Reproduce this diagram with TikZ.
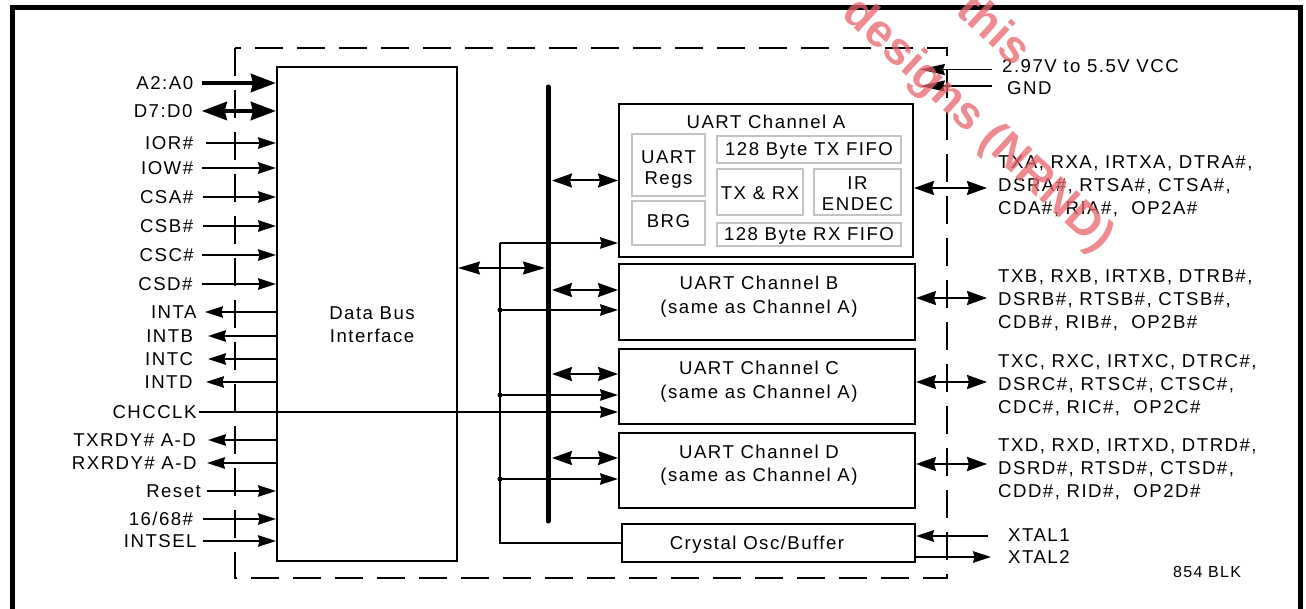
\documentclass[tikz,border=0pt]{standalone}
\usepackage{fontspec}
\setmainfont{Liberation Sans}[LetterSpace=8]
\newfontfamily\wmfont{Liberation Sans}
\usetikzlibrary{arrows.meta}
\definecolor{wmred}{RGB}{232,100,108}
\definecolor{igray}{RGB}{195,195,195}
\tikzset{
  lbl/.style={inner sep=0pt, text height=13.3pt, text depth=0pt},
  box/.style={draw, line width=2pt, inner sep=0pt},
  ibox/.style={draw=igray, line width=1.5pt, inner sep=0pt, align=center, font=\fontsize{18.6}{21.5}\selectfont},
  itxt/.style={inner sep=0pt, align=center, font=\fontsize{18.6}{21.5}\selectfont},
  ln/.style={line width=1.3pt},
  ar/.style={line width=1.3pt, -{Stealth[length=18pt,width=11.5pt,inset=1.5pt]}},
  darr/.style={line width=2pt, {Stealth[length=20pt,width=14pt,inset=2pt]}-{Stealth[length=20pt,width=14pt,inset=2pt]}},
  bdarr/.style={line width=1.3pt, {Stealth[length=22pt,width=13pt,inset=2pt]}-{Stealth[length=22pt,width=13pt,inset=2pt]}},
  varr/.style={line width=1.3pt, -{Stealth[length=25pt,width=11pt,inset=2pt]}},
  thk/.style={line width=4.5pt, -{Stealth[length=25pt,width=18pt,inset=2pt]}},
  thkd/.style={line width=4.5pt, {Stealth[length=25pt,width=18pt,inset=2pt]}-{Stealth[length=25pt,width=18pt,inset=2pt]}},
  dot/.style={circle, fill, inner sep=0pt, minimum size=5pt},
  wm/.style={inner sep=0pt, text=wmred, opacity=0.75, font=\wmfont\bfseries\fontsize{46}{50}\selectfont, rotate=-42.8, anchor=east}
}
\begin{document}
\begin{tikzpicture}[x=1pt,y=-1pt, every node/.style={font=\fontsize{18.6}{23}\selectfont}]
\useasboundingbox (0,0) rectangle (1306,609);
% outer frame and chip outline
\draw[line width=5pt] (12.5,609) -- (12.5,7.5) -- (1300.8,7.5) -- (1300.8,609);
\draw[line width=1.2pt, dash pattern=on 28pt off 14pt] (235,48) rectangle (947,578);

% blocks
\node[box, minimum width=180, minimum height=494] (dbi) at (367,314) {};
\node[lbl, align=center, text height=, text depth=] (dbit) at (372,324.5) {Data Bus\\Interface};
\node[box, minimum width=294, minimum height=153] (chA) at (766,180.5) {};
\node[lbl] (chAt) at (766,122) {UART Channel A};
\node[ibox, minimum width=73, minimum height=62] (regs) at (668.5,165) {};
\node[itxt] (regst) at (668.5,169.5) {UART\\Regs};
\node[ibox, minimum width=73, minimum height=44] (brg) at (668.5,223) {};
\node[lbl] (brgt) at (668.5,220.5) {BRG};
\node[ibox, minimum width=184, minimum height=27] (txf) at (809,149.5) {};
\node[lbl] (txft) at (809,148.5) {128 Byte TX FIFO};
\node[ibox, minimum width=86, minimum height=46] (txrx) at (760,192) {};
\node[lbl] (txrxt) at (760,193) {TX \& RX};
\node[ibox, minimum width=87, minimum height=46] (ir) at (857.5,192) {};
\node[itxt] (irt) at (857.5,193.5) {IR\\ENDEC};
\node[ibox, minimum width=184, minimum height=23] (rxf) at (809,234.5) {};
\node[lbl] (rxft) at (809,233.5) {128 Byte RX FIFO};

\node[box, minimum width=296, minimum height=76] (chB) at (767,302) {};
\node[lbl] (chBt) at (759,283) {UART Channel B};
\node[lbl] (chBs) at (759,307) {(same as Channel A)};
\node[box, minimum width=296, minimum height=75] (chC) at (767,386.5) {};
\node[lbl] (chCt) at (759,368) {UART Channel C};
\node[lbl] (chCs) at (759,391.5) {(same as Channel A)};
\node[box, minimum width=296, minimum height=75] (chD) at (767,470.5) {};
\node[lbl] (chDt) at (759,452) {UART Channel D};
\node[lbl] (chDs) at (759,475) {(same as Channel A)};
\node[box, minimum width=293, minimum height=38] (xo) at (768.5,543) {};
\node[lbl] (xot) at (757,542.7) {Crystal Osc/Buffer};

% left side signals
\node[lbl, anchor=east] (a20) at (193.3,83) {A2:A0};
\draw[thk] ([xshift=8.4pt]a20.east) -- (a20.east -| dbi.west);
\node[lbl, anchor=east] (d70) at (192.7,111) {D7:D0};
\draw[thkd] ([xshift=9pt]d70.east) -- (d70.east -| dbi.west);
\foreach \n/\t/\y/\lx/\g in {ior/IOR\#/143/193.3/12.7, iow/IOW\#/168/193.3/8.4, csa/CSA\#/197/193.3/10, csb/CSB\#/226/193.3/9.7, csc/CSC\#/255/194/7.7, csd/CSD\#/284/192.7/9, rst/Reset/491/201/5.7, isel/INTSEL/541/196.7/6.6}{
  \node[lbl, anchor=east] (\n) at (\lx,\y) {\t};
  \draw[ar] ([xshift=\g pt]\n.east) -- (\n.east -| dbi.west);
}
\node[lbl, anchor=east] (m68) at (193.3,519) {16/68\#};
\draw[ar] ([xshift=10pt]m68.east) -- (m68.east -| dbi.west);
\foreach \n/\t/\y/\lx/\g in {inta/INTA/312/196.7/8.3, intb/INTB/336/193.3/14.7, intc/INTC/359/193.3/14.7, intd/INTD/382/192.7/13.3, txr/TXRDY\# A-D/440/196/12, rxr/RXRDY\# A-D/463/196.7/10.3}{
  \node[lbl, anchor=east] (\n) at (\lx,\y) {\t};
  \draw[ar] (\n.east -| dbi.west) -- ([xshift=\g pt]\n.east);
}
\node[lbl, anchor=east] (clk) at (196.7,412) {CHCCLK};
\draw[ar] ([xshift=2.6pt]clk.east) -- (clk.east -| chC.west);

% internal bus
\coordinate (busT) at (548,87);
\coordinate (busB) at (548,521);
\coordinate (bj) at (545,268);
\draw[bdarr] (bj -| dbi.east) -- (bj);
\coordinate (bA) at (552,180.5);
\coordinate (bB) at (552,290);
\coordinate (bC) at (552,374);
\coordinate (bD) at (552,458);
\draw[darr] (bA) -- (bA -| chA.west);
\draw[darr] (bB) -- (bB -| chB.west);
\draw[darr] (bC) -- (bC -| chC.west);
\draw[darr] (bD) -- (bD -| chD.west);

% clock distribution
\coordinate (ckA) at (500,243);
\coordinate (ckB) at (500,310);
\coordinate (ckC) at (500,395);
\coordinate (ckD) at (500,479);
\coordinate (ckX) at (500,543);
\draw[ln] (ckA) -- (ckX) -- (xo.west);
\draw[ar] (ckA) -- (ckA -| chA.west);
\draw[ar] (ckB) -- (ckB -| chB.west);
\draw[ar] (ckC) -- (ckC -| chC.west);
\draw[ar] (ckD) -- (ckD -| chD.west);
\node[dot] (dB) at (ckB) {};
\node[dot] (dC) at (ckC) {};
\node[dot] (dD) at (ckD) {};
\draw[line width=5pt, line cap=round] (busT) -- (busB);

% right side
\node[lbl, anchor=west] (vcc) at (1002,66) {2.97V to 5.5V VCC};
\node[lbl, anchor=west] (gnd) at (1007,88) {GND};
\coordinate (vccT) at (920,69.5);
\coordinate (gndT) at (920,86);
\draw[varr] (vcc.west |- vccT) ++(-10,0) -- (vccT);
\draw[varr] (gnd.west |- gndT) ++(-15,0) -- (gndT);

\coordinate (rA) at (987,188);
\coordinate (rB) at (987,298);
\coordinate (rC) at (987,382);
\coordinate (rD) at (987,464);
\draw[darr] (rA -| chA.east) -- (rA);
\draw[darr] (rB -| chB.east) -- (rB);
\draw[darr] (rC -| chC.east) -- (rC);
\draw[darr] (rD -| chD.east) -- (rD);
\node[anchor=north west, align=left, inner sep=0pt] (sA) at (998,155.3) {TXA, RXA, IRTXA, DTRA\#,\\DSRA\#, RTSA\#, CTSA\#,\\CDA\#, RIA\#, \ OP2A\#};
\node[anchor=north west, align=left, inner sep=0pt] (sB) at (998,269.7) {TXB, RXB, IRTXB, DTRB\#,\\DSRB\#, RTSB\#, CTSB\#,\\CDB\#, RIB\#, \ OP2B\#};
\node[anchor=north west, align=left, inner sep=0pt] (sC) at (998,354.5) {TXC, RXC, IRTXC, DTRC\#,\\DSRC\#, RTSC\#, CTSC\#,\\CDC\#, RIC\#, \ OP2C\#};
\node[anchor=north west, align=left, inner sep=0pt] (sD) at (998,439) {TXD, RXD, IRTXD, DTRD\#,\\DSRD\#, RTSD\#, CTSD\#,\\CDD\#, RID\#, \ OP2D\#};

\node[lbl, anchor=west] (x1) at (1008,535) {XTAL1};
\node[lbl, anchor=west] (x2) at (1008,557) {XTAL2};
\coordinate (x1S) at (988,536);
\coordinate (x2E) at (991,557);
\draw[ar] (x1S) -- (x1S -| xo.east);
\draw[ar] (x2E -| xo.east) -- (x2E);
\node[lbl, anchor=west, font=\fontsize{16}{18}\selectfont, text height=11.5pt] (blk) at (1173,572) {854 BLK};

% watermark
\node[wm] (wm1) at (1026,56) {this};
\node[wm] (wm2) at (1106,245) {designs (NRND)};
\end{tikzpicture}
\end{document}
